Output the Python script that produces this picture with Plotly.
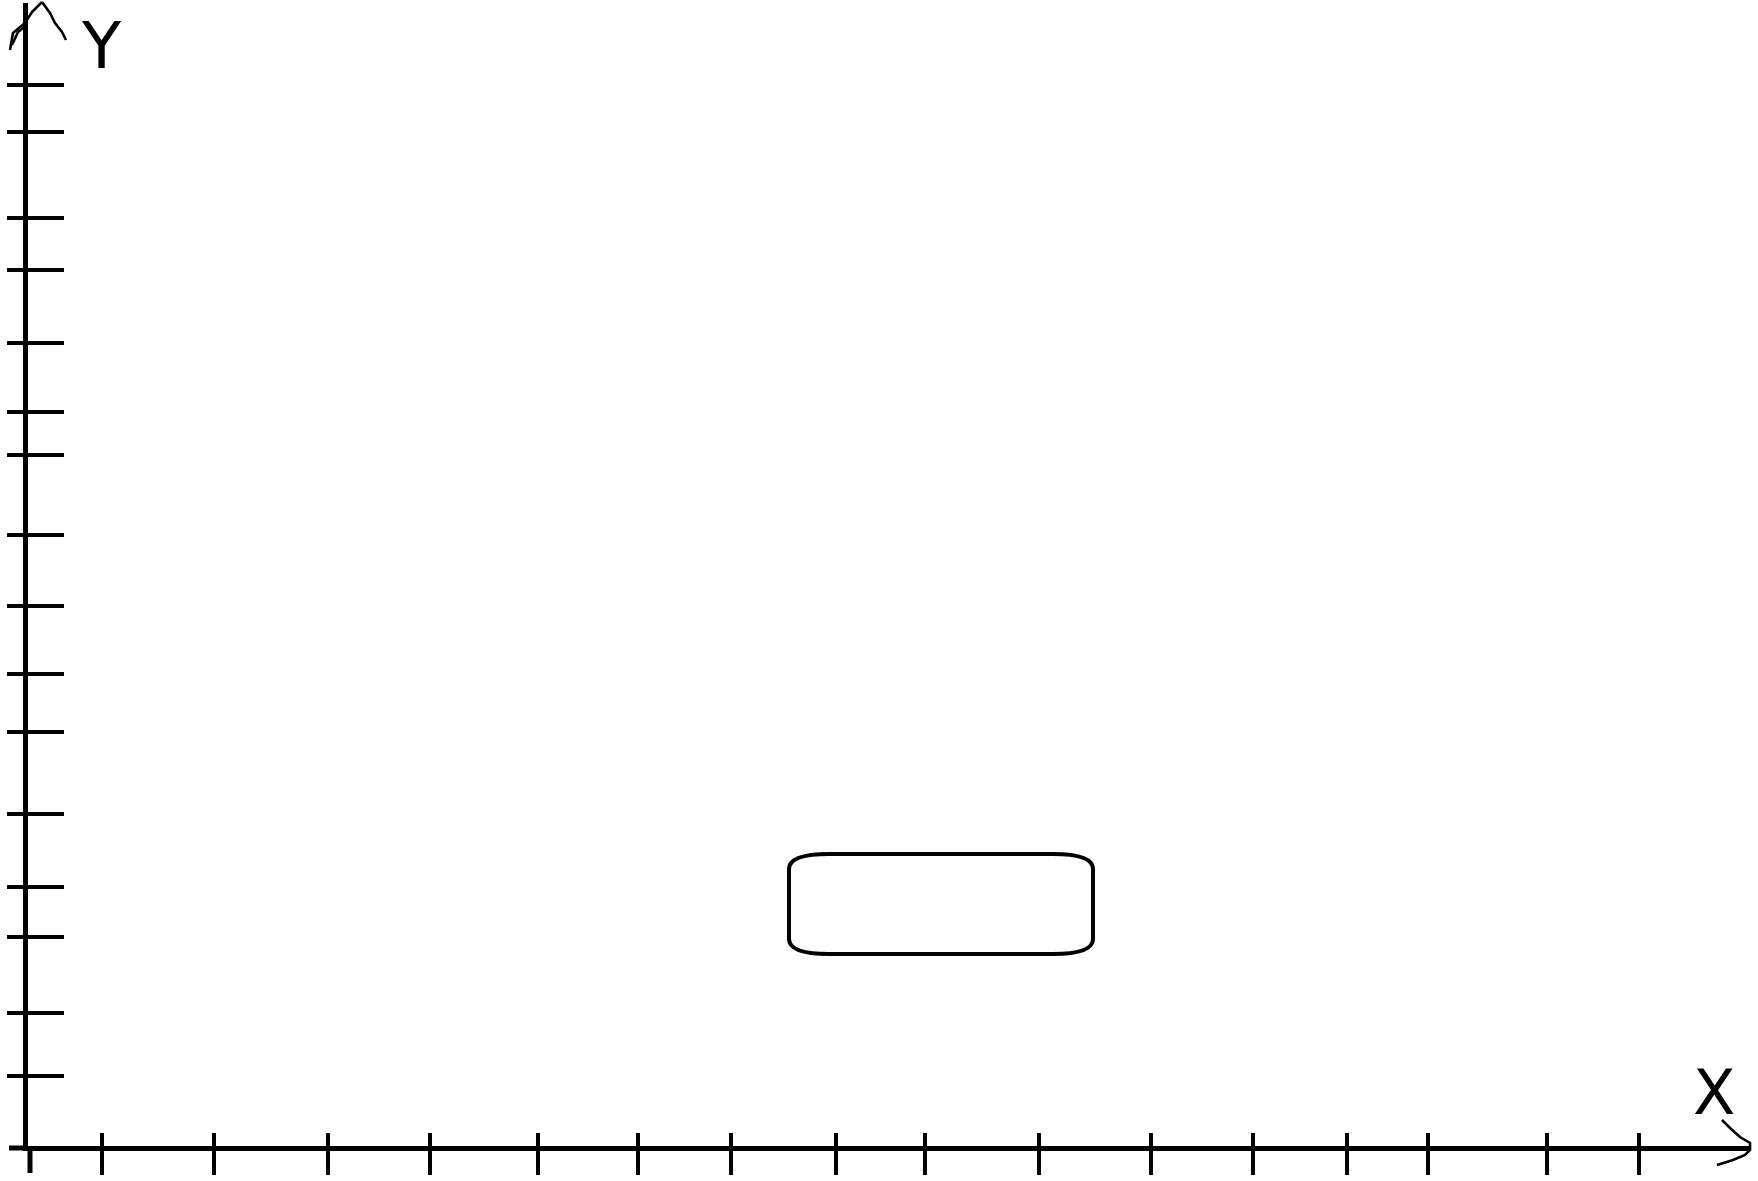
import plotly.graph_objects as go

# ---- data (axis units: 1 unit ~ 100 px of the sketch) ----
x_ticks = [0.72, 1.84, 2.98, 4.00, 5.08, 6.08, 7.01, 8.06, 8.95, 10.09,
           11.21, 12.23, 13.17, 13.98, 15.17, 16.09]
y_ticks = [0.72, 1.35, 2.11, 2.61, 3.34, 4.16, 4.74, 5.42, 6.13, 6.93,
           7.36, 8.05, 8.78, 9.30, 10.16, 10.63]
box_x = [7.59, 10.63]      # highlighted region, x extent
box_y = [1.94, 2.94]       # highlighted region, y extent
axis_labels = ["X", "Y"]

# ---- layout geometry (pixels of the 1758x1181 page) ----
W, H = 1758, 1181
ML, MR, MT, MB = 28, 8, 3, 35
PX0, PX1 = ML, W - MR          # plot area left/right in px
PY0, PY1 = H - MB, MT          # plot area bottom/top in px
ORIGIN_PX, ORIGIN_PY, UNIT = 30, 1148, 100.0
x_range = [(PX0 - ORIGIN_PX) / UNIT, (PX1 - ORIGIN_PX) / UNIT]
y_range = [(ORIGIN_PY - PY0) / UNIT, (ORIGIN_PY - PY1) / UNIT]


def px(x):
    return (x - PX0) / (PX1 - PX0)


def py(y):
    return (PY0 - y) / (PY0 - PY1)


INK = "black"
fig = go.Figure()
# empty traces so that both axis pairs are drawn
fig.add_trace(go.Scatter(x=[], y=[], xaxis="x", yaxis="y", showlegend=False))
fig.add_trace(go.Scatter(x=[], y=[], xaxis="x2", yaxis="y2", showlegend=False))

common = dict(showgrid=False, zeroline=False, showticklabels=False,
              tickmode="array", tickcolor=INK, tickwidth=4)
fig.update_layout(
    width=W, height=H,
    margin=dict(l=ML, r=MR, t=MT, b=MB, pad=0),
    paper_bgcolor="white", plot_bgcolor="white",
    showlegend=False,
    xaxis=dict(range=x_range, tickvals=x_ticks, ticks="outside", ticklen=24,
               showline=True, linecolor=INK, linewidth=5, **common),
    yaxis=dict(range=y_range, tickvals=y_ticks, ticks="outside", ticklen=16,
               showline=True, linecolor=INK, linewidth=5, **common),
    xaxis2=dict(range=x_range, tickvals=x_ticks, ticks="inside", ticklen=13,
                overlaying="x", anchor="y2", side="bottom", showline=False,
                **common),
    yaxis2=dict(range=y_range, tickvals=y_ticks, ticks="inside", ticklen=36,
                overlaying="y", anchor="x2", side="left", showline=False,
                **common),
)

# rounded rectangle (elliptical corners)
x0, x1 = box_x
y0, y1 = box_y
rx, ry = 0.40, 0.15
path = (f"M {x0+rx},{y1} L {x1-rx},{y1} Q {x1},{y1} {x1},{y1-ry} "
        f"L {x1},{y0+ry} Q {x1},{y0} {x1-rx},{y0} L {x0+rx},{y0} "
        f"Q {x0},{y0} {x0},{y0+ry} L {x0},{y1-ry} Q {x0},{y1} {x0+rx},{y1} Z")
fig.add_shape(type="path", path=path, xref="x", yref="y",
              line=dict(color=INK, width=4), fillcolor="rgba(0,0,0,0)")

# axis stubs past the origin
fig.add_shape(type="line", xref="paper", yref="paper",
              x0=px(9), y0=py(ORIGIN_PY), x1=px(PX0), y1=py(ORIGIN_PY),
              line=dict(color=INK, width=5))
fig.add_shape(type="line", xref="paper", yref="paper",
              x0=px(ORIGIN_PX), y0=py(PY0), x1=px(ORIGIN_PX), y1=py(1173),
              line=dict(color=INK, width=5))


def stroke(points):
    d = "M " + " L ".join(f"{px(a):.5f},{py(b):.5f}" for a, b in points)
    fig.add_shape(type="path", path=d, xref="paper", yref="paper",
                  line=dict(color=INK, width=2.6))


# hand-drawn arrow heads
stroke([(10, 50), (13, 33), (25, 23), (32, 12), (42, 2)])
stroke([(12, 45), (18, 32), (27, 25)])
stroke([(42, 2), (50, 13), (55, 23), (62, 32), (66, 40)])
stroke([(1722, 1120), (1730, 1128), (1740, 1137), (1750, 1143),
        (1750, 1150), (1745, 1155), (1733, 1160), (1717, 1165)])

# axis letters
fig.add_annotation(text=axis_labels[1], xref="paper", yref="paper",
                   x=px(101), y=py(46), xanchor="center", yanchor="middle",
                   showarrow=False,
                   font=dict(family="DejaVu Sans", size=64, color=INK))
fig.add_annotation(text=axis_labels[0], xref="paper", yref="paper",
                   x=px(1714), y=py(1092), xanchor="center", yanchor="middle",
                   showarrow=False,
                   font=dict(family="DejaVu Sans", size=62, color=INK))

fig.write_html(
    "out.html",
    config={"displayModeBar": False},
    post_script="document.body.style.margin='0';"
                "document.body.style.overflow='hidden';",
)
